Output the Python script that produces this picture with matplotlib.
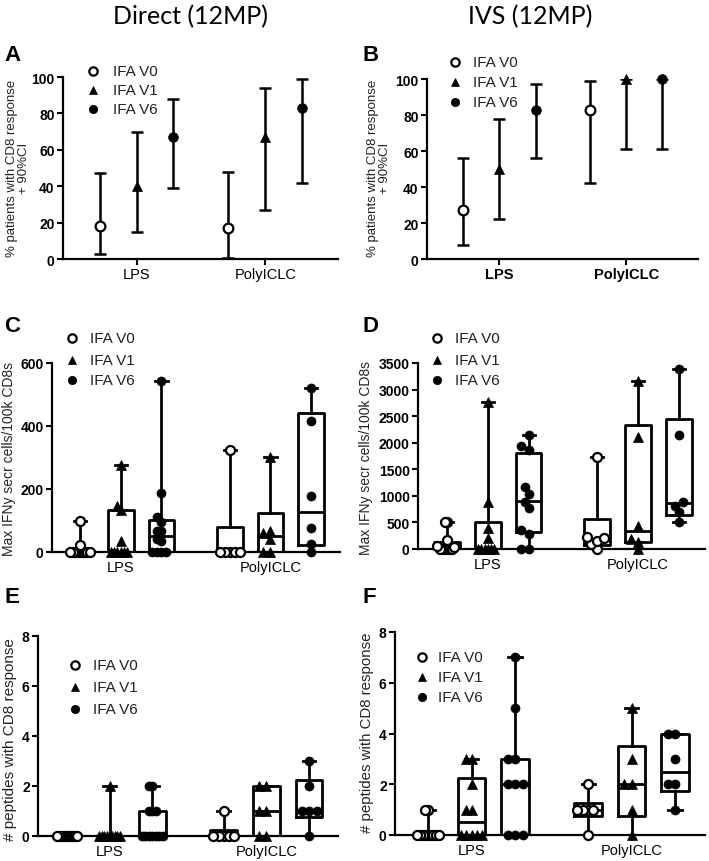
import numpy as np
import matplotlib
matplotlib.use('Agg')
import matplotlib.pyplot as plt
from matplotlib.lines import Line2D

plt.rcParams['font.family'] = ['Liberation Sans', 'DejaVu Sans']

# ---------------- data ----------------
groups = ['LPS', 'PolyICLC']
series = ['IFA V0', 'IFA V1', 'IFA V6']

# Panels A / B : % patients with CD8 response and 90% CI (order: LPS V0,V1,V6, PolyICLC V0,V1,V6)
a_pct = [18, 40, 67, 17, 67, 83]
a_lo = [3, 15, 39, 0.5, 27, 42]
a_hi = [47, 70, 88, 48, 94, 99]

b_pct = [27, 50, 83, 83, 100, 100]
b_lo = [8, 22, 56, 42, 61, 61]
b_hi = [56, 78, 97, 99, 100, 100]

# Panel C : max IFNy secreting cells / 100k CD8s (Direct)
c_points = [
    [0, 0, 0, 0, 0, 0, 0, 0, 0, 22, 100],
    [0, 0, 0, 0, 0, 0, 35, 133, 147, 277],
    [0, 0, 0, 0, 36, 41, 68, 68, 94, 112, 187, 542],
    [0, 0, 0, 0, 0, 325],
    [0, 0, 42, 60, 66, 302],
    [0, 25, 75, 177, 416, 522],
]
c_q1 = [0, 0, 0, 0, 0, 23]
c_med = [0, 0, 52, 0, 52, 126]
c_q3 = [5, 134, 103, 80, 124, 440]

# Panel D : max IFNy secreting cells / 100k CD8s (IVS)
d_points = [
    [0, 0, 0, 0, 0, 0, 40, 60, 176, 505, 515],
    [0, 0, 0, 0, 0, 0, 200, 390, 891, 2770],
    [0, 0, 282, 357, 780, 890, 1035, 1160, 1863, 1945, 2145],
    [0, 100, 150, 200, 220, 1740],
    [0, 138, 188, 439, 2100, 3168],
    [515, 690, 815, 890, 2152, 3388],
]
d_q1 = [0, 0, 326, 75, 125, 646]
d_med = [40, 0, 910, 175, 345, 866]
d_q3 = [138, 505, 1800, 565, 2340, 2446]

# Panel E : # peptides with CD8 response (Direct)
e_points = [
    [0] * 11,
    [0] * 9 + [2],
    [0] * 7 + [1, 1, 1, 2, 2],
    [0, 0, 0, 0, 0, 1],
    [0, 0, 1, 1, 2, 2],
    [0, 1, 1, 1, 2, 3],
]
e_q1 = [0, 0, 0, 0, 0, 0.75]
e_med = [0, 0, 0, 0, 1, 1]
e_q3 = [0, 0, 1, 0.25, 2, 2.25]

# Panel F : # peptides with CD8 response (IVS)
f_points = [
    [0] * 9 + [1, 1],
    [0, 0, 0, 0, 0, 1, 1, 2, 3, 3],
    [0, 0, 0, 2, 2, 2, 3, 3, 5, 7],
    [0, 1, 1, 1, 1, 2],
    [0, 1, 2, 2, 3, 5],
    [1, 2, 2, 3, 4, 4],
]
f_q1 = [0, 0, 0, 0.75, 0.75, 1.75]
f_med = [0, 0.5, 2, 1, 2, 2.5]
f_q3 = [0, 2.25, 3, 1.25, 3.5, 4]

# ---------------- style ----------------
W, H = 709, 862
fig = plt.figure(figsize=(W / 100, H / 100), dpi=100)

MARKERS = [dict(marker='o', mfc='white', mec='black', mew=1.6),
           dict(marker='^', mfc='black', mec='black', mew=0.5),
           dict(marker='o', mfc='black', mec='black', mew=0.5)]
LW = 2.0
TXT = '#222222'


def ax_at(l, r, t, b):
    return fig.add_axes([l / W, 1 - b / H, (r - l) / W, (b - t) / H])


def style_axes(ax, ylim, yticks, xticks, xbold=False):
    ax.set_ylim(*ylim)
    ax.set_yticks(yticks)
    ax.set_yticklabels([str(t) for t in yticks], fontweight='bold', fontsize=10)
    ax.set_xticks(xticks)
    ax.set_xticklabels(groups, fontsize=10.5, fontweight='bold' if xbold else 'normal')
    for s in ['top', 'right']:
        ax.spines[s].set_visible(False)
    for s in ['left', 'bottom']:
        ax.spines[s].set_linewidth(1.6)
    ax.tick_params(direction='out', length=4, width=1.5, pad=2, colors='black')
    ax.set_facecolor('none')


def legend_at(xm, ys, xt, fs=11):
    for k, y in enumerate(ys):
        fig.add_artist(Line2D([xm / W], [1 - y / H], linestyle='none', ms=6,
                              transform=fig.transFigure, **MARKERS[k]))
        fig.text(xt / W, 1 - y / H, series[k], fontsize=fs, color=TXT,
                 ha='left', va='center')


def ylabel_at(x, y, text, fs=9.5):
    fig.text(x / W, 1 - y / H, text, rotation=90, ha='center', va='center',
             fontsize=fs, color=TXT, multialignment='center', linespacing=1.1)


def swarm_offsets(vals, ppu_y, ppu_x, d, maxhalf):
    vals = np.asarray(vals, float)
    order = np.argsort(vals, kind='stable')
    placed = []
    offs = np.zeros(len(vals))
    cands = [0.0]
    for j in range(1, 60):
        cands += [-j * d * 0.5, j * d * 0.5]
    for i in order:
        y = vals[i] * ppu_y
        for c in cands:
            if all((c - px) ** 2 + (y - py) ** 2 >= (0.92 * d) ** 2 for px, py in placed):
                break
        placed.append((c, y))
        offs[i] = c
    m = np.max(np.abs(offs)) if len(offs) else 0
    if m > maxhalf:
        offs *= maxhalf / m
    return offs / ppu_x


def ci_panel(box, pct, lo, hi, yl):
    l, r, t, b = box
    ax = ax_at(l, r, t, b)
    pos = np.array([0, 1, 2, 3.5, 4.5, 5.5])
    ax.set_xlim(-1.0, 6.48)
    pct = np.array(pct, float)
    err = [pct - np.array(lo), np.array(hi) - pct]
    ax.errorbar(pos, pct, yerr=err, fmt='none', ecolor='black', elinewidth=1.8,
                capsize=4, capthick=1.8, zorder=2)
    for k in range(6):
        ax.plot([pos[k]], [pct[k]], linestyle='none', ms=7, clip_on=False,
                zorder=3, **MARKERS[k % 3])
    style_axes(ax, (0, 100), [0, 20, 40, 60, 80, 100], [1, 4.5], xbold=yl)
    return ax


def box_panel(box, xl, points, q1, med, q3, ylim, yticks):
    l, r, t, b = box
    ax = ax_at(l, r, t, b)
    pos = np.array([0, 1, 2, 3.68, 4.68, 5.68])
    ax.set_xlim(*xl)
    ax.set_ylim(*ylim)
    stats = []
    for k in range(6):
        stats.append(dict(med=med[k], q1=q1[k], q3=q3[k],
                          whislo=min(points[k]), whishi=max(points[k]), fliers=[]))
    lp = dict(color='black', linewidth=LW)
    ax.bxp(stats, positions=pos, widths=0.63, capwidths=0.3, showfliers=False,
           boxprops=lp, whiskerprops=lp, capprops=lp, medianprops=lp,
           manage_ticks=False)
    ppu_x = (r - l) / (xl[1] - xl[0])
    ppu_y = (b - t) / (ylim[1] - ylim[0])
    d = 7.5
    for k in range(6):
        offs = swarm_offsets(points[k], ppu_y, ppu_x, d, 0.5 * 0.63 * ppu_x - 3)
        ax.plot(pos[k] + offs, points[k], linestyle='none', ms=6.5, clip_on=False,
                zorder=3, **MARKERS[k % 3])
    style_axes(ax, ylim, yticks, [1, 4.68])
    return ax


# ---------------- panels ----------------
ci_panel((63, 338, 78, 260), a_pct, a_lo, a_hi, False)
ci_panel((427, 698, 80, 260), b_pct, b_lo, b_hi, True)

box_panel((52, 340, 364, 553), (-0.69, 6.39), c_points, c_q1, c_med, c_q3,
          (0, 600), [0, 200, 400, 600])
box_panel((418, 705, 364, 550), (-0.71, 6.32), d_points, d_q1, d_med, d_q3,
          (0, 3500), [0, 500, 1000, 1500, 2000, 2500, 3000, 3500])
box_panel((38, 338, 637, 837), (-0.68, 6.36), e_points, e_q1, e_med, e_q3,
          (0, 8), [0, 2, 4, 6, 8])
box_panel((395, 705, 633, 836), (-0.76, 6.37), f_points, f_q1, f_med, f_q3,
          (0, 8), [0, 2, 4, 6, 8])

# legends
legend_at(93, [72, 91, 110], 113)
legend_at(455, [63, 83, 103], 473)
legend_at(72, [339, 361, 381], 90)
legend_at(437, [339, 361, 381], 455)
legend_at(75, [666, 688, 710], 93)
legend_at(422, [658, 678, 698], 438)

# y labels
ylabel_at(18, 168, '% patients with CD8 response\n+ 90%CI', 9.5)
ylabel_at(379, 168, '% patients with CD8 response\n+ 90%CI', 9.5)
ylabel_at(9, 459, 'Max IFNy secr cells/100k CD8s', 10)
ylabel_at(366, 458, 'Max IFNy secr cells/100k CD8s', 10)
ylabel_at(10, 740, '# peptides with CD8 response', 11)
ylabel_at(367, 733, '# peptides with CD8 response', 10.8)

# panel letters
for letter, x, y in [('A', 4, 56), ('B', 362, 56), ('C', 4, 327), ('D', 362, 327),
                     ('E', 4, 598), ('F', 362, 598)]:
    fig.text(x / W, 1 - y / H, letter, fontsize=16, fontweight='bold',
             ha='left', va='center', color='black')

# column titles
fig.text(190 / W, 1 - 17 / H, 'Direct (12MP)', fontsize=18, ha='center', va='center',
         family=['Lato', 'DejaVu Sans'], color='black')
fig.text(530 / W, 1 - 17 / H, 'IVS (12MP)', fontsize=18, ha='center', va='center',
         family=['Lato', 'DejaVu Sans'], color='black')

fig.savefig('out.png', dpi=100)
